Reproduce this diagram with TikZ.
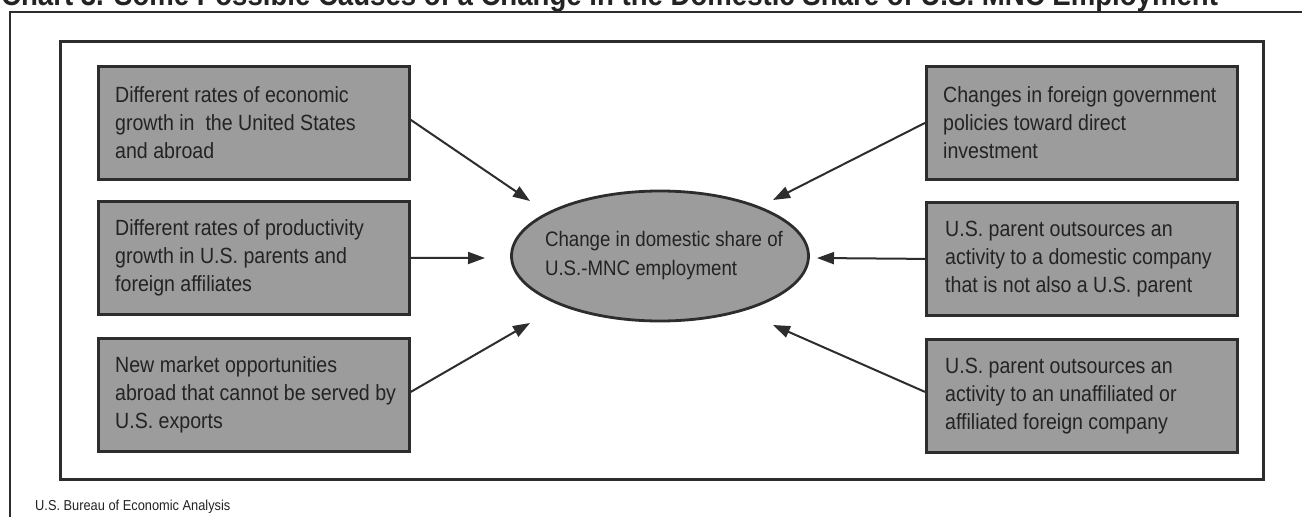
\documentclass[tikz,border=0pt]{standalone}
\usepackage{fontspec}
\setmainfont{Liberation Sans}[FakeStretch=0.89]
\usetikzlibrary{shapes.geometric,arrows.meta}
\definecolor{boxfill}{RGB}{156,156,156}
\definecolor{inkc}{RGB}{35,35,35}
\definecolor{linec}{RGB}{45,45,45}
\tikzset{
  causebox/.style={draw=linec, line width=2.8pt, fill=boxfill, rectangle, minimum width=311pt, minimum height=113pt, inner sep=0pt, anchor=north west},
  causetext/.style={anchor=west, align=left, inner sep=0pt, text=inkc, font=\fontsize{22}{28}\selectfont},
  arr/.style={draw=linec, line width=2pt, -{Triangle[length=17pt,width=12pt]}},
}
\begin{document}
\begin{tikzpicture}[x=1pt,y=-1pt]
\useasboundingbox (0,0) rectangle (1302,517);
\clip (0,0) rectangle (1302,517);
\fill[white] (0,0) rectangle (1302,517);
% title (cut off at top, as in the reference)
\node[anchor=base west, inner sep=0pt, text=inkc, font=\bfseries\fontsize{31}{34}\selectfont] (title) at (1,5) {Chart 3. Some Possible Causes of a Change in the Domestic Share of U.S. MNC Employment};
% outer frame
\draw[linec, line width=2.6pt] (10,530) -- (10,12) -- (1320,12);
% inner frame
\draw[linec, line width=3pt] (60,41) rectangle (1263,479);
% left boxes
\node[causebox] (b1) at (97,65) {};
\node[causebox] (b2) at (97,200) {};
\node[causebox] (b3) at (97,337) {};
\node[causetext] (t1) at ([xshift=18pt]b1.west) {Different rates of economic\\growth in \ the United States\\and abroad};
\node[causetext] (t2) at ([xshift=18pt]b2.west) {Different rates of productivity\\growth in U.S. parents and\\foreign affiliates};
\node[causetext] (t3) at ([xshift=18pt]b3.west) {New market opportunities\\abroad that cannot be served by\\U.S. exports};
% right boxes
\node[causebox] (r1) at (925,65) {};
\node[causebox] (r2) at (925,201) {};
\node[causebox] (r3) at (925,338) {};
\node[causetext] (s1) at ([xshift=18pt]r1.west) {Changes in foreign government\\policies toward direct\\investment};
\node[causetext] (s2) at ([xshift=20pt]r2.west) {U.S. parent outsources an\\activity to a domestic company\\that is not also a U.S. parent};
\node[causetext] (s3) at ([xshift=20pt]r3.west) {U.S. parent outsources an\\activity to an unaffiliated or\\affiliated foreign company};
% center ellipse
\node[ellipse, draw=linec, line width=2.8pt, fill=boxfill, minimum width=297pt, minimum height=130pt, inner sep=0pt] (c) at (660,256) {};
\node[anchor=center, align=left, inner sep=0pt, text=inkc, font=\fontsize{21}{29}\selectfont] (ct) at (664,256) {Change in domestic share of\\U.S.-MNC employment};
% arrow tips
\coordinate (p1) at (530,201);
\coordinate (p2) at (485,258);
\coordinate (p3) at (530,323);
\coordinate (q1) at (773,200);
\coordinate (q2) at (817,258);
\coordinate (q3) at (773,325);
\draw[arr] ([yshift=3pt]b1.east) -- (p1);
\draw[arr] (b2.east) -- (p2);
\draw[arr] ([yshift=3pt]b3.east) -- (p3);
\draw[arr] (r1.west) -- (q1);
\draw[arr] (r2.west) -- (q2);
\draw[arr] ([yshift=4pt]r3.west) -- (q3);
% footer
\node[anchor=base west, inner sep=0pt, text=inkc, font=\fontsize{14.4}{17}\selectfont] (src) at (35,510) {U.S. Bureau of Economic Analysis};
\end{tikzpicture}
\end{document}
